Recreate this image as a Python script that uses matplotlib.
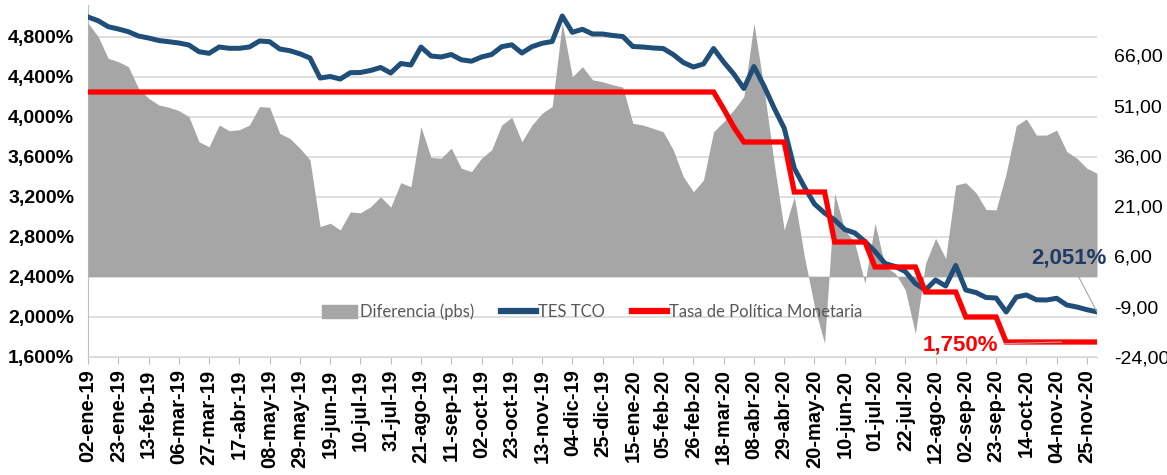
import numpy as np
import matplotlib
matplotlib.use('Agg')
import matplotlib.pyplot as plt
from matplotlib.patches import Patch
from matplotlib.lines import Line2D
from matplotlib.ticker import FuncFormatter

# semanas (miércoles) 02-ene-19 ... 02-dic-20
tick_labels = ['02-ene-19', '23-ene-19', '13-feb-19', '06-mar-19', '27-mar-19', '17-abr-19',
               '08-may-19', '29-may-19', '19-jun-19', '10-jul-19', '31-jul-19', '21-ago-19',
               '11-sep-19', '02-oct-19', '23-oct-19', '13-nov-19', '04-dic-19', '25-dic-19',
               '15-ene-20', '05-feb-20', '26-feb-20', '18-mar-20', '08-abr-20', '29-abr-20',
               '20-may-20', '10-jun-20', '01-jul-20', '22-jul-20', '12-ago-20', '02-sep-20',
               '23-sep-20', '14-oct-20', '04-nov-20', '25-nov-20']

tes_tco = [5.00, 4.963, 4.903, 4.88, 4.853, 4.81, 4.79, 4.765, 4.753, 4.74,
           4.72, 4.653, 4.637, 4.70, 4.687, 4.687, 4.70, 4.76, 4.753, 4.68,
           4.663, 4.632, 4.59, 4.39, 4.405, 4.38, 4.443, 4.445, 4.465, 4.495,
           4.44, 4.535, 4.52, 4.70, 4.61, 4.60, 4.625, 4.572, 4.558, 4.60,
           4.625, 4.703, 4.722, 4.64, 4.703, 4.737, 4.755, 5.01, 4.847, 4.877,
           4.83, 4.83, 4.815, 4.805, 4.705, 4.70, 4.69, 4.685, 4.625, 4.545,
           4.50, 4.53, 4.685, 4.55, 4.43, 4.285, 4.505, 4.31, 4.09, 3.888,
           3.487, 3.30, 3.13, 3.04, 2.97, 2.875, 2.84, 2.755, 2.655, 2.535,
           2.505, 2.455, 2.335, 2.27, 2.37, 2.31, 2.515, 2.27, 2.245, 2.195,
           2.19, 2.05, 2.20, 2.22, 2.172, 2.17, 2.187, 2.12, 2.10, 2.073,
           2.051]

tpm = [4.25] * 63 + [4.08, 3.90] + [3.75] * 5 + [3.25] * 4 + [2.75] * 4 + \
      [2.50] * 5 + [2.25] * 4 + [2.00] * 4 + [1.75] * 10

diferencia = [75.6, 71.6, 65.1, 64.1, 62.6, 56.2, 53.2, 51.2, 50.5, 49.5,
              47.7, 40.2, 38.7, 45.2, 43.5, 43.8, 45.2, 50.7, 50.5, 42.7,
              41.2, 38.3, 34.8, 14.9, 15.9, 13.9, 19.3, 19.0, 20.8, 23.8,
              20.7, 28.0, 26.8, 44.7, 35.5, 35.3, 38.3, 32.3, 31.3, 35.3,
              37.8, 45.2, 47.5, 40.2, 45.2, 48.7, 50.7, 75.6, 59.6, 62.6,
              58.7, 58.1, 57.2, 56.5, 45.7, 45.2, 44.2, 43.2, 37.8, 29.8,
              25.3, 28.8, 43.2, 46.2, 49.7, 53.7, 75.6, 56.0, 33.8, 13.9,
              23.8, 6.0, -9.0, -19.9, 24.8, 13.9, 9.9, -2.0, 15.9, 2.9,
              1.0, -4.0, -17.0, 3.9, 11.4, 5.4, 27.3, 28.0, 25.0, 20.0,
              19.9, 30.8, 45.0, 47.0, 42.2, 42.2, 43.7, 37.3, 35.3, 32.3,
              30.8]

left_ticks = [1.6, 2.0, 2.4, 2.8, 3.2, 3.6, 4.0, 4.4, 4.8]
right_ticks = [-24, -9, 6, 21, 36, 51, 66]

BLUE = '#1F4E79'
RED = '#FF0000'
GRAY = '#A6A6A6'
narrow = ['Liberation Sans Narrow', 'Liberation Sans', 'DejaVu Sans']

x = np.arange(len(tes_tco))

fig = plt.figure(figsize=(11.67, 4.75), dpi=100)
pos = [88 / 1167, 1 - 357 / 475, 1009 / 1167, 352 / 475]

# eje izquierdo: rejilla y etiquetas
ax = fig.add_axes(pos)
ax.set_xlim(0, 100)
ax.set_ylim(1.6, 5.12)
ax.set_yticks(left_ticks)
ax.yaxis.set_major_formatter(FuncFormatter(lambda v, p: ('%.3f%%' % v).replace('.', ',')))
ax.grid(axis='y', color='#D9D9D9', linewidth=1.2)
ax.set_axisbelow(True)
for s in ['top', 'right']:
    ax.spines[s].set_visible(False)
ax.spines['left'].set_color('#BFBFBF')
ax.spines['bottom'].set_color('#D9D9D9')
ax.set_xticks(np.arange(0, 100, 3))
ax.set_xticklabels(tick_labels, rotation=90, family=narrow, fontweight='bold', fontsize=14.5)
ax.tick_params(axis='x', length=5, color='#BFBFBF', pad=4)
ax.tick_params(axis='y', length=0, pad=10)
for t in ax.get_yticklabels():
    t.set_family(narrow)
    t.set_fontweight('bold')
    t.set_fontsize(14)

# eje derecho: diferencia (pbs)
ax2 = ax.twinx()
ax2.set_ylim(-24, 81)
ax2.fill_between(x, diferencia, 0, color=GRAY, linewidth=0)
ax2.set_yticks(right_ticks)
ax2.yaxis.set_major_formatter(FuncFormatter(lambda v, p: ('%.2f' % v).replace('.', ',')))
ax2.tick_params(axis='y', length=0, pad=12)
for t in ax2.get_yticklabels():
    t.set_family(narrow)
    t.set_fontsize(14)
for s in ax2.spines.values():
    s.set_visible(False)
ax2.patch.set_visible(False)

# lineas encima del area
ax3 = fig.add_axes(pos, sharex=ax, sharey=ax)
ax3.patch.set_visible(False)
ax3.axis('off')
ax3.plot(x, tes_tco, color=BLUE, linewidth=3.6, solid_joinstyle='round')
ax3.plot(x, tpm, color=RED, linewidth=3.8, solid_joinstyle='miter')

ax3.annotate('2,051%', xy=(x[-1], tes_tco[-1]), xytext=(97.2, 2.59),
             color='#203864', fontsize=16, fontweight='bold', family=narrow,
             ha='center', va='center',
             arrowprops=dict(arrowstyle='-', color='#A6A6A6', lw=0.8, shrinkA=2, shrinkB=0))
ax3.annotate('1,750%', xy=(96.5, tpm[-1]), xytext=(86.5, 1.72),
             color=RED, fontsize=16, fontweight='bold', family=narrow,
             ha='center', va='center',
             arrowprops=dict(arrowstyle='-', color='#A6A6A6', lw=0.8, shrinkA=2, shrinkB=0))

handles = [Patch(color=GRAY), Line2D([], [], color=BLUE, lw=4.5), Line2D([], [], color=RED, lw=4.5)]
leg = ax3.legend(handles, ['Diferencia (pbs)', 'TES TCO', 'Tasa de Política Monetaria'],
                 loc='center', bbox_to_anchor=(0.5, 0.128), ncol=3, frameon=False,
                 prop={'family': 'Lato', 'size': 12}, handlelength=2.1, handletextpad=0.15,
                 columnspacing=1.6, handleheight=0.9)
for t in leg.get_texts():
    t.set_color('#595959')

ax.set_zorder(0)
ax2.set_zorder(1)
ax3.set_zorder(2)

fig.savefig('out.png', dpi=100)
